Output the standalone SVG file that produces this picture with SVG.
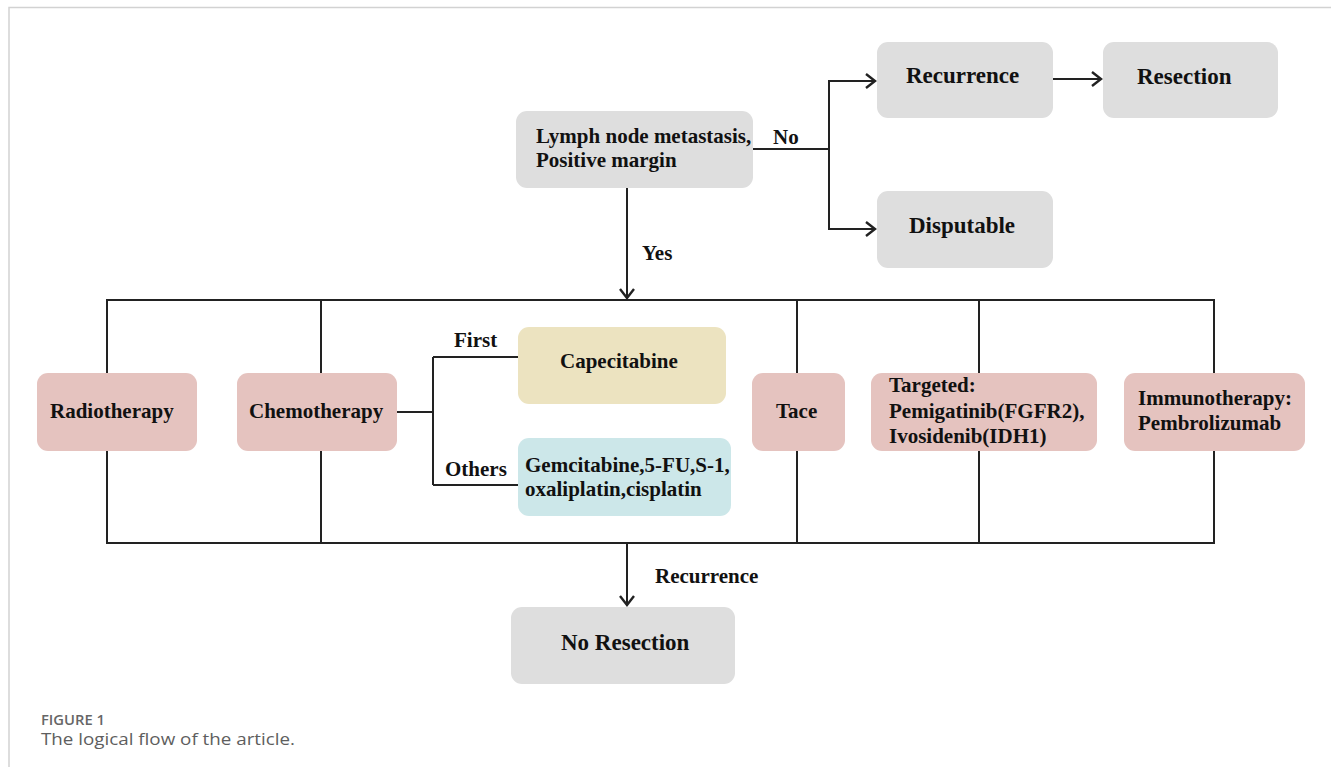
<svg xmlns="http://www.w3.org/2000/svg" width="1331" height="767" viewBox="0 0 1331 767">
<defs>
<style>
.box{stroke:none}
.gray{fill:#dedede}
.pink{fill:#e5c3bf}
.yellow{fill:#ece3c0}
.cyan{fill:#cce7e9}
.t{font-family:"Liberation Serif","Times New Roman",serif;font-weight:bold;fill:#111;font-size:21px}
.big{font-size:23px}
.ln{stroke:#222;stroke-width:2;fill:none}
.arr{marker-end:url(#ah)}
</style>
<marker id="ah" markerUnits="userSpaceOnUse" markerWidth="14" markerHeight="18" viewBox="-12 -9 14 18" refX="0" refY="0" orient="auto">
<path d="M-9,-7 L0,0 L-9,7" fill="none" stroke="#222" stroke-width="2.4" stroke-linejoin="miter"/>
</marker>
</defs>
<rect width="1331" height="767" fill="#ffffff"/>
<path d="M9,767 V7.5 H1331" fill="none" stroke="#d2d2d2" stroke-width="1.5"/>

<g id="connectors">
<path class="ln" d="M753,149 H829"/>
<path class="ln" d="M829,81 V229"/>
<path class="ln arr" d="M828,81 H875"/>
<path class="ln arr" d="M828,229 H875"/>
<path class="ln arr" d="M1051,79 H1101"/>
<path class="ln arr" d="M627,188 V298"/>
<rect class="ln" x="107" y="300" width="1107" height="243"/>
<path class="ln" d="M321,300 V543 M797,300 V543 M979,300 V543"/>
<path class="ln" d="M397,412 H433 M433,357 V485 M433,357 H518 M433,485 H518"/>
<path class="ln arr" d="M627,543 V605"/>
</g>

<g id="lymph"><rect class="box gray" x="516" y="111" width="237" height="77" rx="11"/>
<text class="t" x="536" y="143">Lymph node metastasis,</text>
<text class="t" x="536" y="167">Positive margin</text></g>
<g id="label-no"><text class="t" x="773" y="144">No</text></g>
<g id="label-yes"><text class="t" x="642" y="260" font-size="19.5">Yes</text></g>
<g id="recurrence"><rect class="box gray" x="877" y="42" width="176" height="76" rx="11"/>
<text class="t big" x="906" y="83">Recurrence</text></g>
<g id="resection"><rect class="box gray" x="1103" y="42" width="175" height="76" rx="11"/>
<text class="t big" x="1137" y="84">Resection</text></g>
<g id="disputable"><rect class="box gray" x="877" y="191" width="176" height="77" rx="11"/>
<text class="t big" x="909" y="233">Disputable</text></g>

<g id="radiotherapy"><rect class="box pink" x="37" y="373" width="160" height="78" rx="11"/>
<text class="t" x="50" y="418">Radiotherapy</text></g>
<g id="chemotherapy"><rect class="box pink" x="237" y="373" width="160" height="78" rx="11"/>
<text class="t" x="249" y="418">Chemotherapy</text></g>
<g id="label-first"><text class="t" x="454" y="347">First</text></g>
<g id="label-others"><text class="t" x="445" y="476">Others</text></g>
<g id="capecitabine"><rect class="box yellow" x="518" y="327" width="208" height="77" rx="11"/>
<text class="t" x="560" y="368">Capecitabine</text></g>
<g id="others-drugs"><rect class="box cyan" x="518" y="438" width="213" height="78" rx="11"/>
<text class="t" x="525" y="472">Gemcitabine,5-FU,S-1,</text>
<text class="t" x="525" y="496">oxaliplatin,cisplatin</text></g>
<g id="tace"><rect class="box pink" x="752" y="373" width="93" height="78" rx="11"/>
<text class="t" x="776" y="418" font-size="19.5">Tace</text></g>
<g id="targeted"><rect class="box pink" x="871" y="373" width="226" height="78" rx="11"/>
<text class="t" x="889" y="392">Targeted:</text>
<text class="t" x="889" y="418">Pemigatinib(FGFR2),</text>
<text class="t" x="889" y="443">Ivosidenib(IDH1)</text></g>
<g id="immunotherapy"><rect class="box pink" x="1124" y="373" width="181" height="78" rx="11"/>
<text class="t" x="1138" y="405">Immunotherapy:</text>
<text class="t" x="1138" y="430">Pembrolizumab</text></g>
<g id="label-recurrence"><text class="t" x="655" y="583">Recurrence</text></g>
<g id="no-resection"><rect class="box gray" x="511" y="607" width="224" height="77" rx="11"/>
<text class="t big" x="561" y="650">No Resection</text></g>

<g id="caption">
<text x="41" y="725" font-family="'Open Sans', Lato, sans-serif" font-size="13.5" font-weight="600" fill="#666" textLength="64" lengthAdjust="spacingAndGlyphs">FIGURE 1</text>
<text x="41" y="745" font-family="'Open Sans', Lato, sans-serif" font-size="17" fill="#5e5e5e" textLength="254" lengthAdjust="spacingAndGlyphs">The logical flow of the article.</text>
</g>
</svg>
